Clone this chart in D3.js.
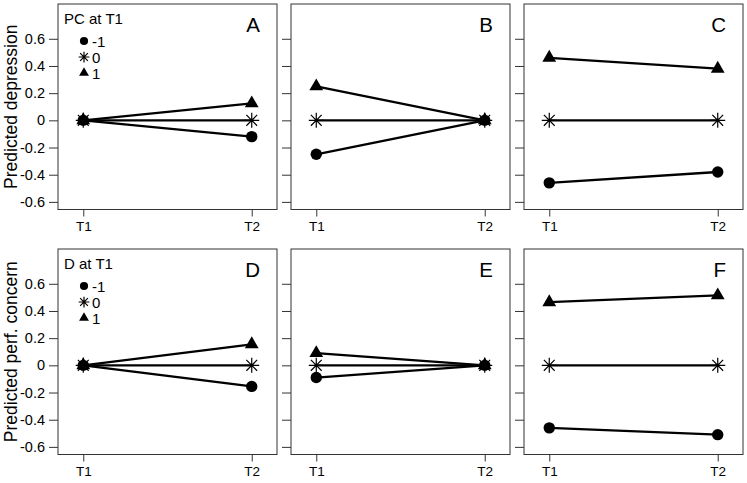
<!DOCTYPE html>
<html>
<head>
<meta charset="utf-8">
<script src="https://cdn.jsdelivr.net/npm/d3@7"></script>
<style>
  html, body { margin: 0; padding: 0; background: #fff; }
  svg { display: block; font-family: Arial, "Liberation Sans", Helvetica, sans-serif; }
</style>
</head>
<body>
<div id="chart"></div>
<script>
// time points and levels of the moderator at T1
const times = ['T1', 'T2'];
const levels = ['-1', '0', '1'];
const levelShapes = ['circle', 'star', 'triangle'];
const yTicks = [-0.6, -0.4, -0.2, 0, 0.2, 0.4, 0.6];
const yLimits = [-0.6, 0.8];

const rowLabels = ['Predicted depression', 'Predicted perf. concern'];
const legendTitles = ['PC at T1', 'D at T1'];
const panelLetters = [['A', 'B', 'C'], ['D', 'E', 'F']];

// predicted values [T1, T2] for levels -1, 0, 1
const valuesA = [[0, -0.12], [0, 0], [0, 0.125]];
const valuesB = [[-0.25, 0], [0, 0], [0.25, 0]];
const valuesC = [[-0.46, -0.38], [0, 0], [0.46, 0.38]];
const valuesD = [[0, -0.155], [0, 0], [0, 0.155]];
const valuesE = [[-0.09, 0], [0, 0], [0.09, 0]];
const valuesF = [[-0.46, -0.51], [0, 0], [0.465, 0.515]];
const panelValues = [[valuesA, valuesB, valuesC], [valuesD, valuesE, valuesF]];

const width = 747, height = 483;
const colLeft = [58, 291, 524];
const colWidth = 219;
const rowTop = [4, 249];
const rowHeight = 205.5;

const svg = d3.select('#chart').append('svg')
  .attr('width', width)
  .attr('height', height);

// R-style 4% axis extension
const ySpan = yLimits[1] - yLimits[0];
const yDomain = [yLimits[0] - 0.04 * ySpan, yLimits[1] + 0.04 * ySpan];

function drawSymbol(g, shape, x, y, s) {
  if (shape === 'circle') {
    g.append('circle').attr('cx', x).attr('cy', y).attr('r', s * 0.95).attr('fill', '#000');
  } else if (shape === 'triangle') {
    const w = s * 2.3, h = w * 0.866;
    g.append('path')
      .attr('d', `M${x - w / 2},${y + h / 3} L${x + w / 2},${y + h / 3} L${x},${y - 2 * h / 3} Z`)
      .attr('fill', '#000');
  } else {
    const a = s * 1.25, d = a * 0.72;
    g.append('path')
      .attr('d', `M${x - a},${y} L${x + a},${y} M${x},${y - a} L${x},${y + a}` +
                 ` M${x - d},${y - d} L${x + d},${y + d} M${x - d},${y + d} L${x + d},${y - d}`)
      .attr('stroke', '#000')
      .attr('stroke-width', 1.2)
      .attr('fill', 'none');
  }
}

for (let r = 0; r < 2; r++) {
  for (let c = 0; c < 3; c++) {
    const left = colLeft[c], top = rowTop[r];
    const x = d3.scalePoint().domain(times).range([left, left + colWidth]).padding(0.15);
    const y = d3.scaleLinear().domain(yDomain).range([top + rowHeight, top]);
    const g = svg.append('g');

    // y axis ticks
    const yAxis = d3.axisLeft(y).tickValues(yTicks).tickSize(9).tickPadding(4)
      .tickFormat(c === 0 ? (d => String(d)) : () => '');
    const ya = g.append('g').attr('transform', `translate(${left},0)`).call(yAxis);
    ya.select('.domain').remove();
    ya.selectAll('line').attr('stroke', '#333');
    ya.selectAll('text').attr('font-size', 14.5).attr('fill', '#000')
      .attr('font-family', 'Arial, "Liberation Sans", sans-serif');

    // x axis ticks
    const xAxis = d3.axisBottom(x).tickSize(7).tickPadding(5);
    const xa = g.append('g').attr('transform', `translate(0,${top + rowHeight})`).call(xAxis);
    xa.select('.domain').remove();
    xa.selectAll('line').attr('stroke', '#333');
    xa.selectAll('text').attr('font-size', 13.5).attr('fill', '#000')
      .attr('font-family', 'Arial, "Liberation Sans", sans-serif');

    // box
    g.append('rect')
      .attr('x', left).attr('y', top)
      .attr('width', colWidth).attr('height', rowHeight)
      .attr('fill', 'none').attr('stroke', '#333').attr('stroke-width', 1);

    // lines
    const values = panelValues[r][c];
    const line = d3.line().x((d, i) => x(times[i])).y(d => y(d));
    values.forEach(v => {
      g.append('path').datum(v).attr('d', line)
        .attr('fill', 'none').attr('stroke', '#000').attr('stroke-width', 2.3);
    });
    // points
    values.forEach((v, k) => {
      v.forEach((val, i) => drawSymbol(g, levelShapes[k], x(times[i]), y(val), 6));
    });

    // panel letter
    g.append('text')
      .attr('x', left + colWidth - 17).attr('y', top + 28)
      .attr('text-anchor', 'end')
      .attr('font-size', 20.5)
      .text(panelLetters[r][c]);

    if (c === 0) {
      // legend
      g.append('text')
        .attr('x', left + 6).attr('y', top + 20)
        .attr('font-size', 15)
        .text(legendTitles[r]);
      levels.forEach((lv, k) => {
        const ly = top + 37 + k * 16;
        drawSymbol(g, levelShapes[k], left + 26, ly, 4.3);
        g.append('text')
          .attr('x', left + 34).attr('y', ly + 5.5)
          .attr('font-size', 15)
          .text(lv);
      });

      // y label
      g.append('text')
        .attr('transform', `translate(17,${top + rowHeight / 2}) rotate(-90)`)
        .attr('text-anchor', 'middle')
        .attr('font-size', 17.5)
        .text(rowLabels[r]);
    }
  }
}
</script>
</body>
</html>
